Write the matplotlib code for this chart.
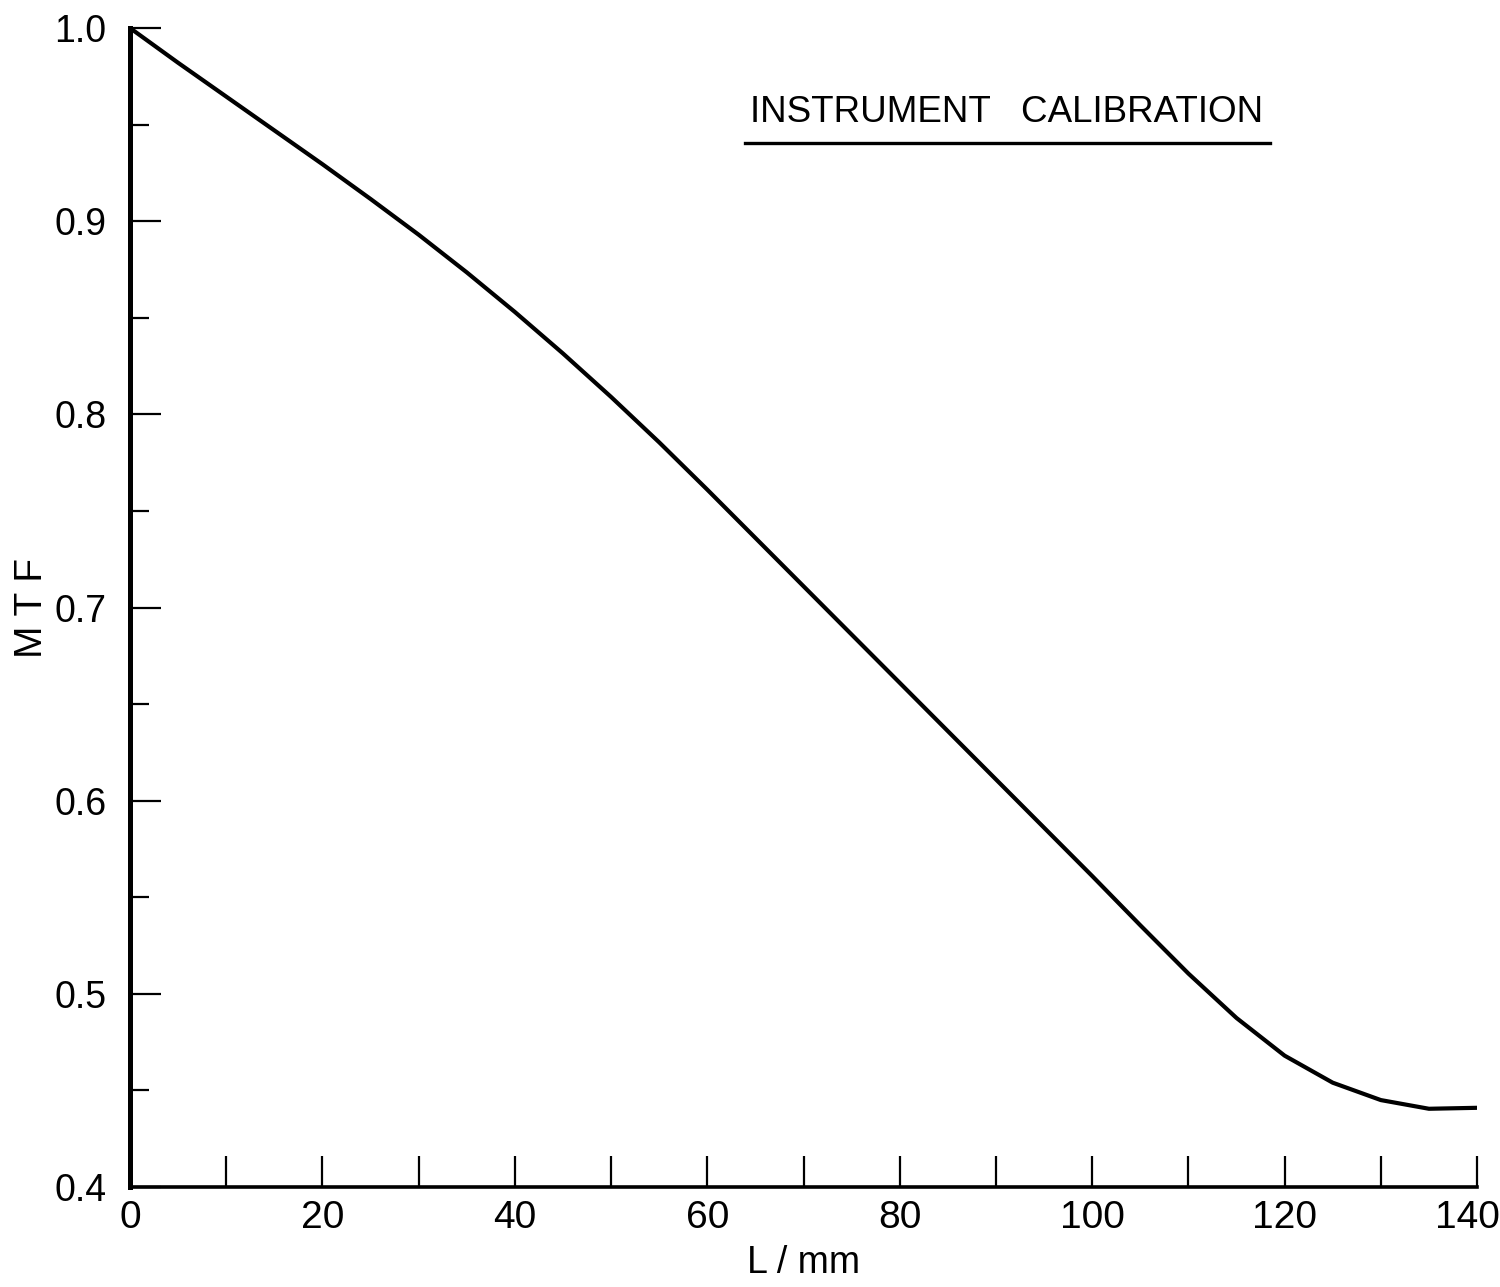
import numpy as np
import matplotlib
matplotlib.use("Agg")
from matplotlib import pyplot as plt
from matplotlib.ticker import MultipleLocator
import matplotlib.transforms as mtransforms

# values (every 5 mm)
spatial_freq = [0, 5, 10, 15, 20, 25, 30, 35, 40, 45, 50, 55, 60, 65, 70,
                75, 80, 85, 90, 95, 100, 105, 110, 115, 120, 125, 130, 135, 140]
mtf = [1.000, 0.982, 0.9645, 0.947, 0.9295, 0.9115, 0.893, 0.8735, 0.853, 0.8315,
       0.809, 0.7855, 0.761, 0.736, 0.711, 0.686, 0.661, 0.636, 0.611, 0.586,
       0.561, 0.5355, 0.5105, 0.4875, 0.468, 0.454, 0.445, 0.4405, 0.441]

y_ticks = [0.4, 0.5, 0.6, 0.7, 0.8, 0.9, 1.0]
y_ticklabels = ["0.4", "0.5", "0.6", "0.7", "0.8", "0.9", "1.0"]
x_ticks = [0, 20, 40, 60, 80, 100, 120, 140]
x_ticklabels = ["0", "20", "40", "60", "80", "100", "120", "140"]

plt.rcParams['font.family'] = ['Liberation Sans', 'DejaVu Sans']

fig = plt.figure(figsize=(15, 12.87), dpi=100)
ax = fig.add_axes([0.0867, 0.0777, 0.898, 0.9005])

ax.plot(spatial_freq, mtf, color='black', lw=3.0, solid_capstyle='round',
        solid_joinstyle='round')

ax.set_xlim(0, 140)
ax.set_ylim(0.4, 1.0)

ax.spines['top'].set_visible(False)
ax.spines['right'].set_visible(False)
ax.spines['left'].set_linewidth(3.6)
ax.spines['bottom'].set_linewidth(2.6)

ax.set_xticks(x_ticks)
ax.set_xticklabels(x_ticklabels)
ax.xaxis.set_minor_locator(MultipleLocator(10))
ax.set_yticks(y_ticks)
ax.set_yticklabels(y_ticklabels)
ax.yaxis.set_minor_locator(MultipleLocator(0.05))

ax.tick_params(axis='x', which='both', direction='in', length=22, width=1.6,
               labelsize=28, pad=9)
ax.tick_params(axis='y', which='major', direction='in', length=22, width=1.6,
               labelsize=27, pad=17)
ax.tick_params(axis='y', which='minor', direction='in', length=14, width=1.6)

# last x label sits a little left of its tick so it stays on the page
last = ax.get_xticklabels()[-1]
last.set_transform(last.get_transform() +
                   mtransforms.ScaledTranslation(-10 / 100, 0, fig.dpi_scale_trans))

ax.set_xlabel("L / mm", fontsize=27, labelpad=7)
ax.set_ylabel("M T F", fontsize=28, labelpad=3)

# title with underline
ax.text(0.651, 0.9275, "INSTRUMENT   CALIBRATION", transform=ax.transAxes,
        ha='center', va='center', fontsize=26.5)
ax.plot([0.4566, 0.8463], [0.9008, 0.9008], transform=ax.transAxes,
        color='black', lw=2.4, clip_on=False)

fig.savefig("out.png", dpi=100, facecolor='white')
